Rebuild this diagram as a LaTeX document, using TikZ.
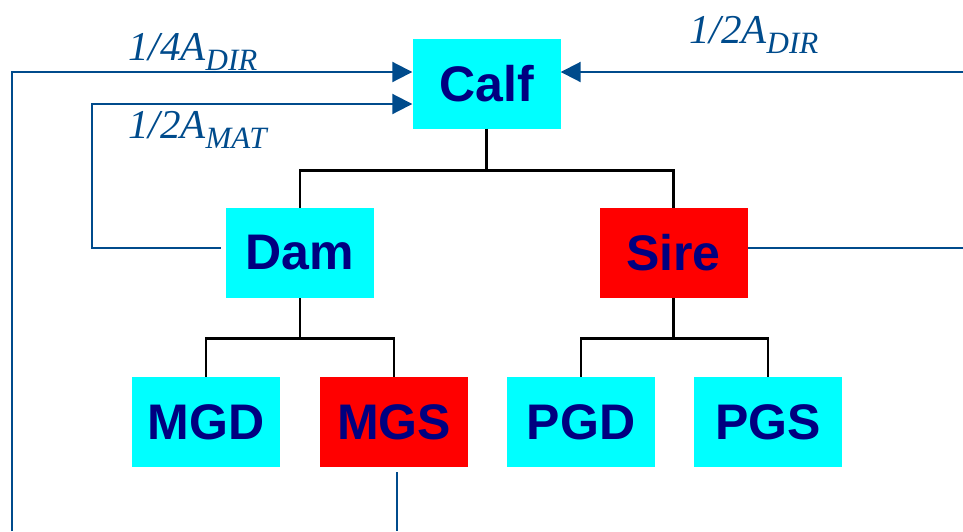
\documentclass[tikz,border=0pt]{standalone}
\usepackage{fontspec}
\setmainfont{Liberation Serif}
\newfontfamily\boxfont{Liberation Sans}
\usetikzlibrary{arrows.meta}
\definecolor{boxcyan}{RGB}{0,255,255}
\definecolor{boxred}{RGB}{255,0,0}
\definecolor{navytext}{RGB}{0,0,128}
\definecolor{linkblue}{RGB}{0,75,140}
% fraction with subscripted additive-effect name
\newcommand\effect[2]{#1A\raisebox{-10pt}{\fontsize{31}{31}\selectfont #2}}
\begin{document}
\begin{tikzpicture}[x=1pt,y=-1pt,
  animal/.style={minimum width=148pt,minimum height=90pt,inner sep=0pt,
    font=\boxfont\bfseries\fontsize{50}{50}\selectfont,text=navytext},
  female/.style={animal,fill=boxcyan},
  male/.style={animal,fill=boxred},
  tree/.style={draw=black,line width=2.8pt},
  link/.style={draw=linkblue,line width=2pt},
  gain/.style={link,-{Triangle[length=20pt,width=20pt]}},
  effectlabel/.style={anchor=base west,inner sep=0pt,text=linkblue,
    font=\itshape\fontsize{41}{41}\selectfont}]
\useasboundingbox (0,0) rectangle (963,531);

% pedigree boxes
\node[female] (calf) at (486.5,83.5) {Calf};
\node[female] (dam)  at (300,253)    {Dam};
\node[male]   (sire) at (673.5,253)  {Sire};
\node[female] (mgd)  at (206,422)    {MGD};
\node[male]   (mgs)  at (394,422)    {MGS};
\node[female] (pgd)  at (581,422)    {PGD};
\node[female] (pgs)  at (768,422)    {PGS};

% pedigree tree
\draw[tree] (calf.south) -- ++(0,42) coordinate (cj) -| (dam.north);
\draw[tree] (cj) -| (sire.north);
\draw[tree] (dam.south) -- ++(0,40) coordinate (dj) -| (mgd.north);
\draw[tree] (dj) -| (mgs.north);
\draw[tree] (sire.south) -- ++(0,40) coordinate (sj) -| (pgd.north);
\draw[tree] (sj) -| (pgs.north);

% genetic contributions to the calf
\coordinate (outer) at (12,531);
\coordinate (rightin) at (963,72);
\coordinate (rightout) at (963,248);
\coordinate (matturn) at (92,104);
\coordinate (mgsend) at (397,531);

\draw[gain] (outer) |- ([yshift=11.5pt]calf.west);
\draw[gain] ([xshift=-5pt,yshift=5pt]dam.west) -| (matturn) -- ([yshift=-20.5pt]calf.west);
\draw[gain] (rightin) -- ([yshift=11.5pt]calf.east);
\draw[link] ([yshift=5pt]sire.east) -- (rightout);
\draw[link] ([xshift=3pt,yshift=-5pt]mgs.south) -- (mgsend);

% labels
\node[effectlabel] (l1) at (128,60)  {\effect{1/4}{DIR}};
\node[effectlabel] (l2) at (128,138) {\effect{1/2}{MAT}};
\node[effectlabel] (l3) at (689,43)  {\effect{1/2}{DIR}};
\end{tikzpicture}
\end{document}
